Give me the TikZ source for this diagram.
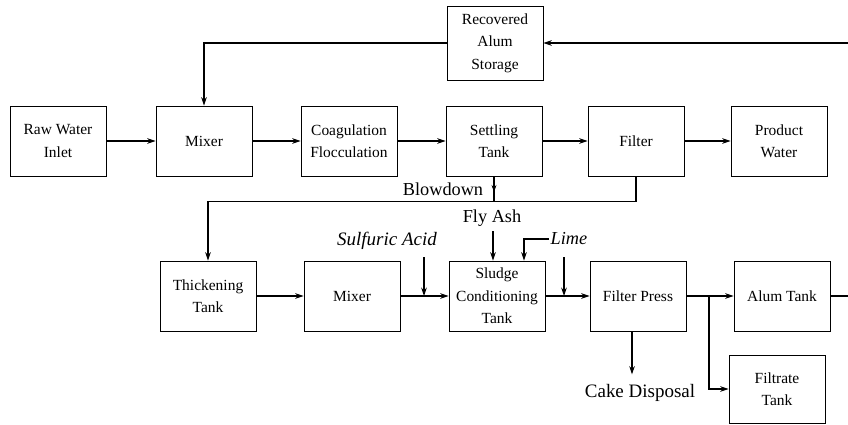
\documentclass[tikz,border=0pt]{standalone}
\usepackage{fontspec}
\setmainfont{Liberation Serif}
\usetikzlibrary{arrows.meta,decorations.markings,positioning,calc}

\begin{document}
\begin{tikzpicture}[
  x=0.025cm, y=-0.025cm,
  box/.style={rectangle, draw=black, line width=0.6pt,
              minimum width=2.4cm, minimum height=1.75cm, font=\fontsize{11}{16}\selectfont,
              inner sep=2pt, align=center},
  lbl/.style={font=\fontsize{13}{15}\selectfont, inner sep=1pt},
  arr/.style={-{Stealth[length=6pt,width=4pt]}, line width=0.8pt},
  ln/.style={line width=0.8pt},
  midarr/.style={postaction={decorate}, decoration={markings,
              mark=at position #1 with {\arrow{Stealth[length=5pt,width=3.5pt]}}}},
  midarr/.default={0.6},
]
  \useasboundingbox (0,0) rectangle (848,424);

  % Row 1: treatment line
  \node[box] (raw) at (58,141) {Raw Water\\Inlet};
  \node[box] (mix) at (204,141) {Mixer};
  \node[box] (coag) at (349,141) {Coagulation\\Flocculation};
  \node[box] (settle) at (494,141) {Settling\\Tank};
  \node[box] (filt) at (636,141) {Filter};
  \node[box] (prod) at (779,141) {Product\\Water};

  \node[box, minimum height=1.85cm] (store) at (495,43) {Recovered\\Alum\\Storage};

  % Row 2: sludge line
  \node[box] (thick) at (208,296) {Thickening\\Tank};
  \node[box] (mixb) at (352,296) {Mixer};
  \node[box] (sludge) at (497,296) {Sludge\\Conditioning\\Tank};
  \node[box] (press) at (638,296) {Filter Press};
  \node[box] (alum) at (782,296) {Alum Tank};
  \node[box, minimum height=1.7cm] (filtrate) at (777,389) {Filtrate\\Tank};

  % Labels
  \node[lbl] (blowdown) at (443,189) {Blowdown};
  \node[lbl, font=\fontsize{13.5}{15}\selectfont\itshape] (acid) at (387,241) {Sulfuric Acid};
  \node[lbl] (flyash) at (492,218) {Fly Ash};
  \node[lbl, anchor=west, font=\fontsize{13}{15}\selectfont\itshape] (lime) at (549,239) {Lime};
  \node[lbl, font=\fontsize{13.5}{15}\selectfont] (cake) at (640,393) {Cake Disposal};

  \coordinate (rin) at (848,43);
  \coordinate (aout) at (848,296);
  \coordinate (acidin) at (424,257);
  \coordinate (ash) at (493,231);
  \coordinate (limein) at (564,257);
  \coordinate (split) at (709,296);

  % Arrows
  \draw[arr] (raw) -- (mix);
  \draw[arr] (mix) -- (coag);
  \draw[arr] (coag) -- (settle);
  \draw[arr] (settle) -- (filt);
  \draw[arr] (filt) -- (prod);

  \draw[arr] (thick) -- (mixb);
  \draw[arr] (mixb) -- (sludge);
  \draw[arr] (sludge) -- (press);
  \draw[arr] (press) -- (alum);
  \draw[ln] (alum) -- (aout);
  \draw[arr] (split) |- (filtrate.west);

  % Recycle loop
  \draw[arr] (rin) -- (store.east |- rin);
  \draw[arr] (store.west) -| (mix.north);

  % Blowdown to thickener
  \draw[ln, midarr] (settle.south) -- ++(0,26);
  \draw[arr] (filt.south) -- ++(0,25) -| (thick.north);

  % Chemicals in
  \draw[arr] (acidin) -- (acidin |- mixb);
  \draw[arr] (ash) -- (ash |- sludge.north);
  \draw[arr] (lime.west) -| ([xshift=0.675cm]sludge.north);
  \draw[arr] (limein) -- (limein |- press);
  \draw[arr] ([xshift=-0.15cm]press.south) -- ++(0,43);

\end{tikzpicture}
\end{document}
